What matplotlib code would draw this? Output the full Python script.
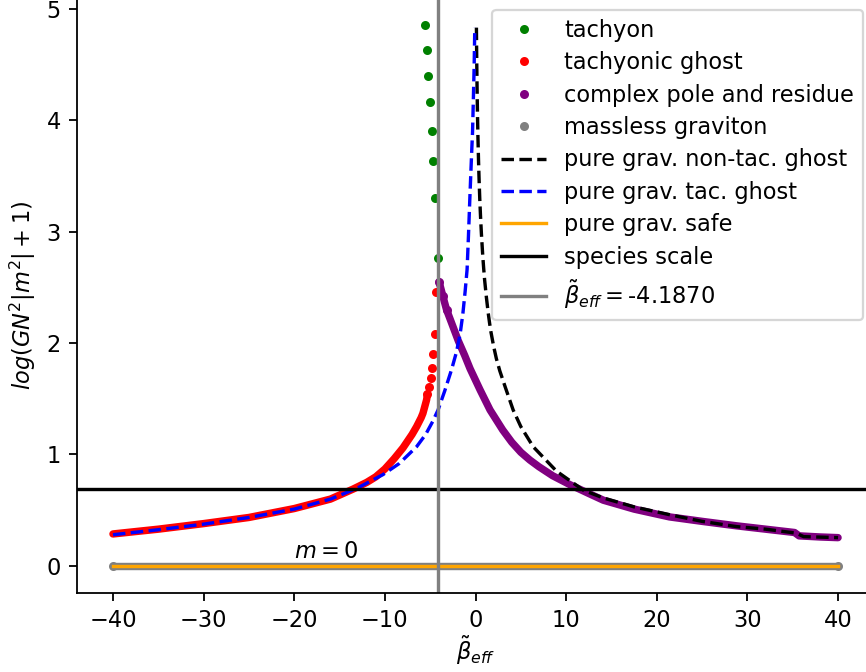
import numpy as np
import matplotlib
matplotlib.use("Agg")
import matplotlib.pyplot as plt

beta_eff = -4.1870          # effective beta (vertical marker)
species_scale = np.log(2)   # log(GN^2|m^2|+1) at the species scale

# tachyon poles (sparse, just left of beta_eff)
tach_x = [-5.60, -5.38, -5.19, -5.01, -4.82, -4.68, -4.46, -4.19]
tach_y = [4.85, 4.63, 4.40, 4.16, 3.90, 3.63, 3.30, 2.76]

# tachyonic ghost: dense branch plus the separated points near the pole
ghost_x = [-40, -35, -30, -25, -20, -16, -13.5, -12, -11, -10, -9, -8, -7.5, -7, -6.5,
           -6, -5.8, -5.4]
ghost_y = [0.287, 0.33, 0.38, 0.435, 0.515, 0.60, 0.69, 0.75, 0.80, 0.87, 0.96, 1.06,
           1.12, 1.18, 1.25, 1.33, 1.37, 1.49]
ghost_tip_x = [-5.30, -5.12, -4.93, -4.79, -4.68, -4.42, -4.33]
ghost_tip_y = [1.54, 1.61, 1.69, 1.78, 1.90, 2.08, 2.46]

# complex pole and residue
cplx_x = [-4.02, -3.6, -3.2, -2.5, -1.9, -1.2, -0.6, 0.5, 1.6, 3.0, 4.0, 5.0, 6.0, 7.0,
          8.5, 10.4, 12.5, 14.1, 17.5, 21.4, 25, 28.8, 32, 35.2, 35.7, 38, 40]
cplx_y = [2.55, 2.42, 2.30, 2.15, 2.02, 1.89, 1.77, 1.58, 1.40, 1.22, 1.11, 1.02, 0.95, 0.89,
          0.81, 0.73, 0.65, 0.59, 0.51, 0.44, 0.40, 0.36, 0.33, 0.30, 0.27, 0.26, 0.254]

# massless graviton / safe pure gravity (m = 0)
zero_x = [-40, 40]
zero_y = [0, 0]

# pure gravity, non-tachyonic ghost
ntg_x = [0.1, 0.12, 0.15, 0.18, 0.22, 0.27, 0.33, 0.4, 0.47, 0.55, 0.65, 0.8, 0.9, 1.0,
         1.1, 1.2, 1.3, 1.4, 1.55, 1.7, 2.0, 2.3, 2.68, 3.3, 4.15, 5.0, 6.36, 8.94,
         11.9, 14.1, 17.5, 21.4, 25, 28.8, 32, 35.4, 36.2, 40]
ntg_y = [4.83, 4.64, 4.42, 4.24, 4.04, 3.84, 3.64, 3.45, 3.29, 3.14, 2.98, 2.78, 2.67, 2.57,
         2.49, 2.41, 2.34, 2.27, 2.18, 2.10, 1.97, 1.86, 1.75, 1.60, 1.40, 1.25, 1.07, 0.85,
         0.68, 0.61, 0.53, 0.46, 0.40, 0.353, 0.33, 0.294, 0.263, 0.254]

# pure gravity, tachyonic ghost
tg_x = [-40, -35, -30, -25, -20, -16, -13, -10.2, -8.4, -6.5, -5.5, -4.7, -4.13, -3.4,
        -2.65, -2.1, -1.7, -1.4, -1.15, -0.93, -0.78, -0.63, -0.5, -0.4, -0.33, -0.24,
        -0.15, -0.08]
tg_y = [0.28, 0.325, 0.375, 0.435, 0.51, 0.60, 0.70, 0.82, 0.92, 1.07, 1.18, 1.30, 1.40, 1.57,
        1.76, 1.92, 2.08, 2.26, 2.46, 2.66, 2.96, 3.29, 3.56, 3.76, 3.89, 4.18,
        4.49, 4.83]

fig = plt.figure(figsize=(866 / 162, 672 / 162), dpi=162)
ax = fig.add_axes([0.0886, 0.1176, 0.921, 0.8848])

band = dict(lw=3.3, solid_capstyle='round', solid_joinstyle='round')

ax.plot(tach_x, tach_y, '.', color='green', label='tachyon')

ax.plot(ghost_x + ghost_tip_x[:1], ghost_y + ghost_tip_y[:1], color='red', **band)
ax.plot(ghost_tip_x, ghost_tip_y, '.', color='red', label='tachyonic ghost')

ax.plot(cplx_x, cplx_y, color='purple', **band)
ax.plot(cplx_x, cplx_y, '.', color='purple', markevery=[0, 1, 2],
        label='complex pole and residue')

ax.plot(zero_x, zero_y, color='gray', **band)
ax.plot(zero_x, zero_y, '.', color='gray', label='massless graviton')

ax.plot(ntg_x, ntg_y, '--', color='black', label='pure grav. non-tac. ghost')
ax.plot(tg_x, tg_y, '--', color='blue', label='pure grav. tac. ghost')
ax.plot(zero_x, zero_y, '-', color='orange', label='pure grav. safe')

ax.axhline(species_scale, color='black', label='species scale')
ax.axvline(beta_eff, color='gray', label=r'$\tilde{\beta}_{eff}=$' + f'{beta_eff:.4f}')

ax.text(-20, 0.07, r'$m=0$')

ax.set_xlabel(r'$\tilde{\beta}_{eff}$', labelpad=1)
ax.set_ylabel(r'$log(GN^2|m^2|+1)$')
ax.legend(loc='upper right', labelspacing=0.42)

plt.savefig('out.png', dpi=162)
